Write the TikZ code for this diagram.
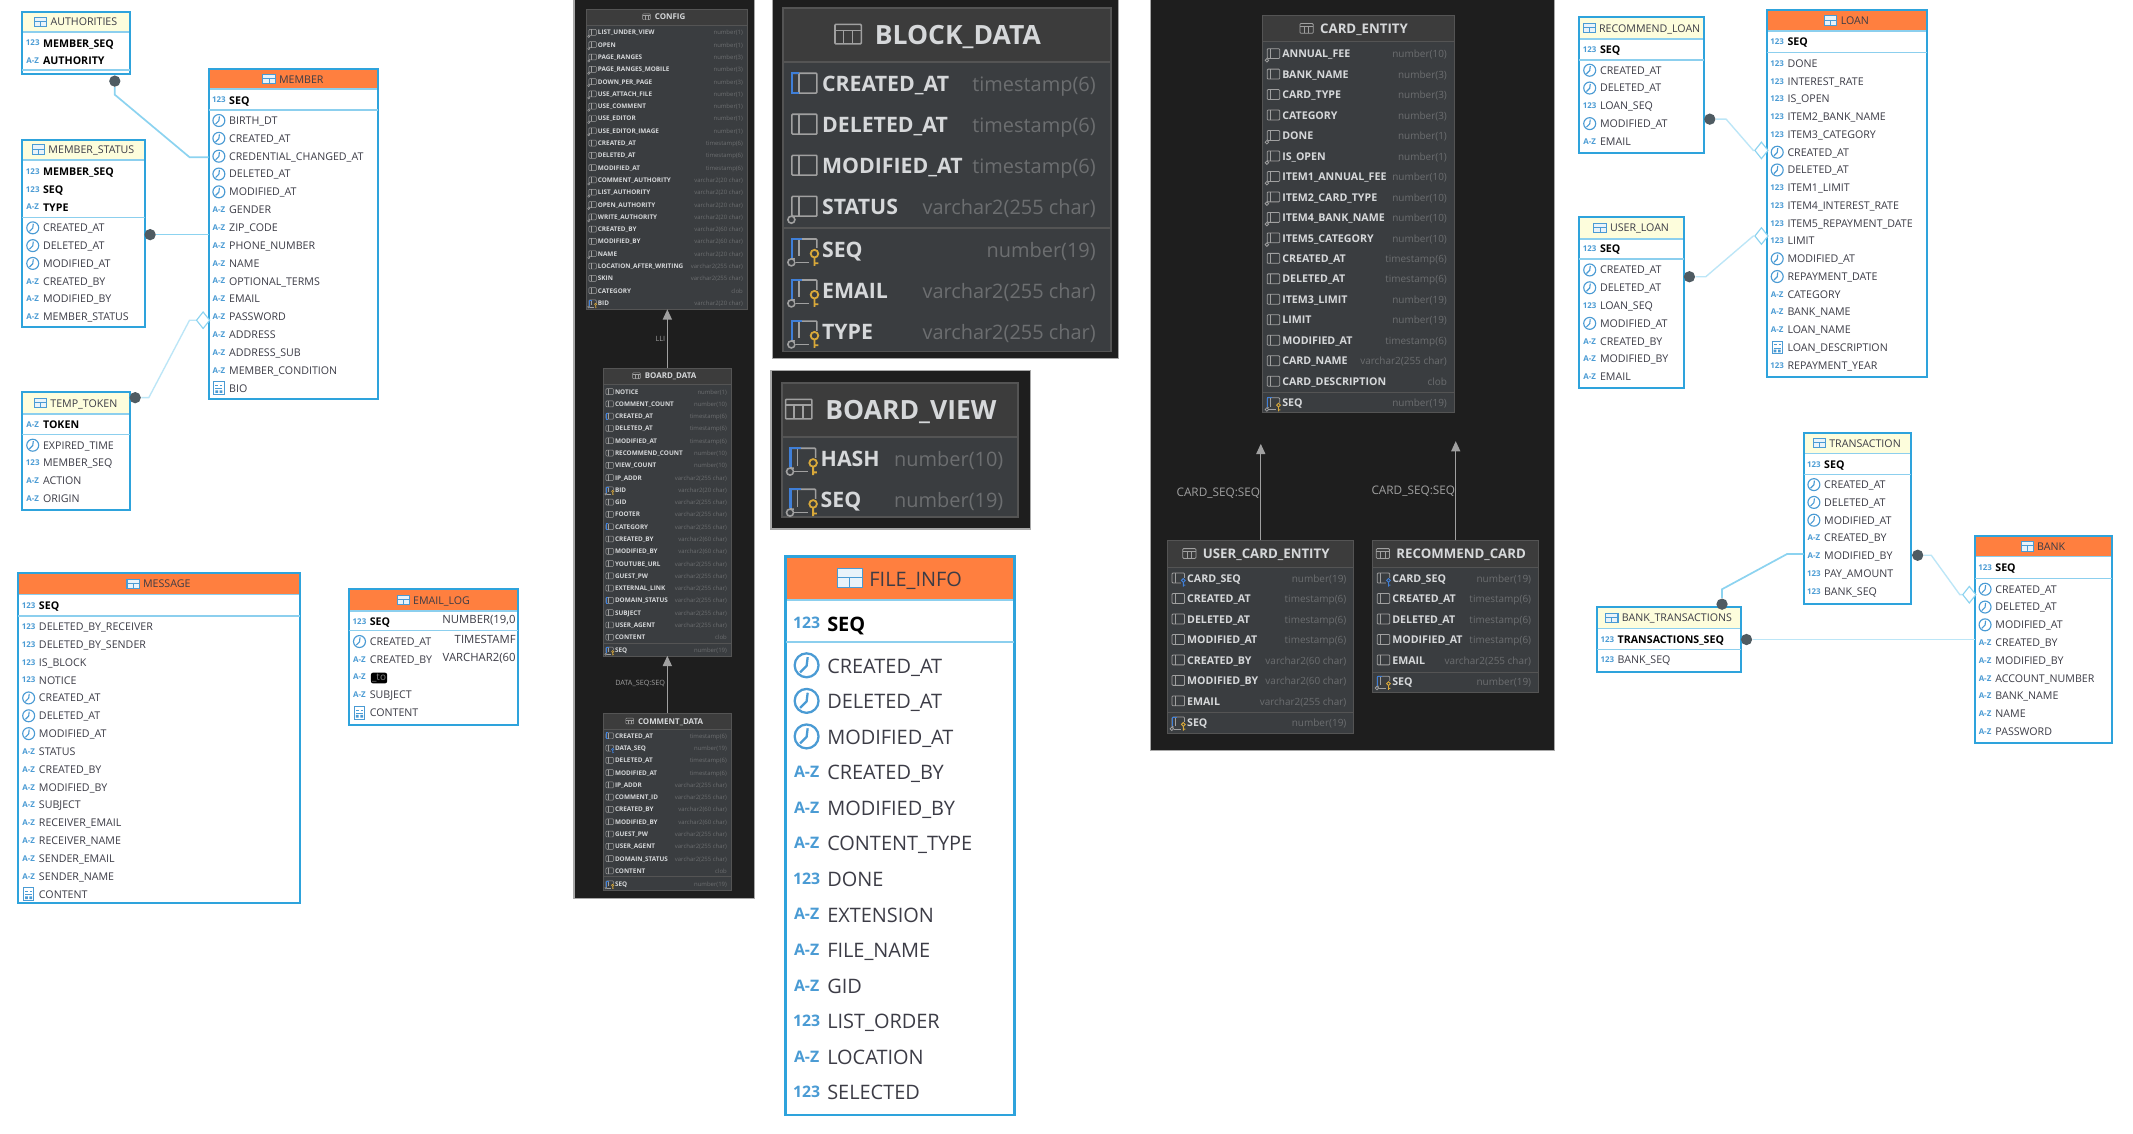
\documentclass[tikz,border=0pt]{standalone}
\usepackage{fontspec}
\setmainfont{Open Sans}
\usetikzlibrary{arrows.meta}
\catcode`\_=12
\definecolor{tblue}{HTML}{2EA3DC}
\definecolor{tsep}{HTML}{8CCFEE}
\definecolor{icblue}{HTML}{4A9BD4}
\definecolor{orangeh}{HTML}{FF7F3F}
\definecolor{creamh}{HTML}{FDFDDC}
\definecolor{ltext}{HTML}{3C3C46}
\definecolor{panelbg}{HTML}{1E1E1E}
\definecolor{panelln}{HTML}{A8A8A8}
\definecolor{dbody}{HTML}{3A3D40}
\definecolor{dhead}{HTML}{3C3C3C}
\definecolor{dline}{HTML}{545454}
\definecolor{dtext}{HTML}{D6D8DA}
\definecolor{dtype}{HTML}{6C6E70}
\definecolor{dicon}{HTML}{A0A0A0}
\definecolor{dblue}{HTML}{3F7FD8}
\definecolor{dgold}{HTML}{D9A93A}
\definecolor{rlhv}{HTML}{8CD3F0}
\definecolor{rllt}{HTML}{BCE6F7}
\definecolor{dotc}{HTML}{4F5B62}
\tikzset{
  tblbox/.style={rectangle,inner sep=0pt,outer sep=0pt},
  rowtext/.style={anchor=base west,inner sep=0pt,outer sep=0pt},
  typetext/.style={anchor=base east,inner sep=0pt,outer sep=0pt},
  ictext/.style={anchor=base,inner sep=0pt,outer sep=0pt,text=icblue},
  dot/.style={circle,fill=dotc,inner sep=0pt,minimum size=5pt},
  dia/.style={diamond,draw=rlhv,fill=white,line width=.5pt,inner sep=0pt,minimum width=6pt,minimum height=7.5pt},
  relheavy/.style={draw=rlhv,line width=.75pt},
  rellight/.style={draw=rllt,line width=.6pt},
  darkarr/.style={draw=dicon,line width=.5pt,-{Triangle[width=4pt,length=4.5pt]}},
  edgelab/.style={inner sep=0pt,outer sep=0pt,text=dicon},
}
\usetikzlibrary{shapes.geometric}
% ---------- light icons (x,y,s)
\newcommand\liconn[3]{\pgfmathsetmacro\icf{3.5*#3}\node[ictext,font=\fontsize{\icf}{\icf}\bfseries\selectfont] at (#1,{#2+2.1*#3}) {123};}
\newcommand\licona[3]{\pgfmathsetmacro\icf{3.5*#3}\node[ictext,font=\fontsize{\icf}{\icf}\bfseries\selectfont] at (#1,{#2+2.1*#3}) {A-Z};}
\newcommand\liconc[3]{\pgfmathsetmacro\lww{0.5*#3}\begin{scope}[shift={(#1,#2)},scale=#3]
  \draw[draw=icblue,line width=\lww pt] (0,0) circle (4.4);
  \draw[draw=icblue,line width=\lww pt] (.4,-3) -- (0,.2) -- (-2.4,2.6);\end{scope}}
\newcommand\licond[3]{\pgfmathsetmacro\lww{0.4*#3}\begin{scope}[shift={(#1,#2)},scale=#3]
  \draw[draw=icblue,line width=\lww pt] (-3.8,-4.6) rectangle (3.8,4.6);
  \draw[draw=icblue,line width=\lww pt] (-2.5,-2) -- (-.5,-2) (1,-2) -- (2.5,-2) (-2.5,.4) -- (2.5,.4);
  \fill[icblue] (-2.6,1.6) rectangle (-.6,3.6) (.6,1.6) rectangle (2.6,3.6);\end{scope}}
% ---------- light table: id,x0,y0,x1,y1,hb,headcolor,title,s
\newcommand\ltable[9]{%
  \pgfmathsetmacro\tblW{(#4-#2)*0.6}\pgfmathsetmacro\tblH{(#5-#3)*0.6}%
  \pgfmathsetmacro\tfs{0.6+4.1*#9}\pgfmathsetmacro\blw{0.5+0.4*#9}%
  \node[tblbox,fill=white,name=#1,minimum width=\tblW pt,minimum height=\tblH pt,anchor=north west] at (#2,#3) {};
  \fill[#7] (#2,#3) rectangle (#4,#6);
  \draw[draw=tsep,line width=.7pt] (#2,#6) -- (#4,#6);
  \draw[draw=tblue,line width=\blw pt] (#1.north west) rectangle (#1.south east);
  \node[inner sep=0pt,name=#1-title,text=ltext,font=\fontsize{\tfs}{\tfs}\selectfont,anchor=base] at ({(#2+#4)/2+5.75*#9},{(#3+#6)/2+2.9*#9}) {#8};
  \begin{scope}[shift={(#1-title.base west)},scale=#9]
    \draw[draw=icblue,line width=.45pt,fill=icblue!12] (-11.5,-6.4) rectangle (-2.5,.6);
    \draw[draw=icblue,line width=.4pt] (-11.5,-3.4) -- (-2.5,-3.4) (-7,-3.4) -- (-7,.6);
  \end{scope}}
% id-prefix,x0,ystart,step,s,list
\newcommand\lrows[6]{%
  \pgfmathsetmacro\rfs{0.6+4.1*#5}%
  \foreach \tp/\nm [count=\i from 0] in {#6}{%
    \pgfmathsetmacro\ry{#3+\i*#4}%
    \csname licon\tp\endcsname{#2+7.6*#5}{\ry}{#5}%
    \node[rowtext,text=ltext,name=#1-\i,font=\fontsize{\rfs}{\rfs}\selectfont] at ({#2+15.2*#5},{\ry+2.9*#5}) {\nm};
  }}
\newcommand\lpk[6]{%
  \pgfmathsetmacro\rfs{0.6+4.1*#5}%
  \foreach \tp/\nm [count=\i from 0] in {#6}{%
    \pgfmathsetmacro\ry{#3+\i*#4}%
    \csname licon\tp\endcsname{#2+7.6*#5}{\ry}{#5}%
    \node[rowtext,text=black,name=#1-\i,font=\fontsize{\rfs}{\rfs}\bfseries\selectfont] at ({#2+15.2*#5},{\ry+2.9*#5}) {\nm};
  }}
\newcommand\lsep[4]{\draw[draw=tsep,line width=#4] (#1,#3) -- (#2,#3);}
% ---------- dark icons
\newcommand\diconbase[3]{\pgfmathsetmacro\lww{0.35*#3}\begin{scope}[shift={(#1,#2)},scale=#3]
  \draw[draw=dicon,line width=\lww pt,rounded corners=.4] (3.2,-3.9) rectangle (12.4,3.4);
  \draw[draw=dicon,line width=\lww pt] (5.8,-3.9) -- (5.8,3.4);\end{scope}}
\newcommand\diconp[3]{\diconbase{#1}{#2}{#3}}
\newcommand\diconb[3]{\diconbase{#1}{#2}{#3}\pgfmathsetmacro\lww{0.5*#3}\begin{scope}[shift={(#1,#2)},scale=#3]
  \draw[draw=dblue,line width=\lww pt] (5.8,-3.9) -- (3.2,-3.9) -- (3.2,3.4) -- (5.8,3.4);\end{scope}}
\newcommand\diconq[3]{\diconbase{#1}{#2}{#3}\pgfmathsetmacro\lww{0.35*#3}\begin{scope}[shift={(#1,#2)},scale=#3]
  \draw[draw=dicon,fill=dbody,line width=\lww pt] (3,4.7) circle (1.3);\end{scope}}
\newcommand\dickey[4]{\pgfmathsetmacro\lww{0.4*#3}\begin{scope}[shift={(#1,#2)},scale=#3]
  \fill[dbody] (9.6,-.4) rectangle (13.4,6);
  \draw[draw=#4,line width=\lww pt] (11.5,1.5) circle (1.4) (11.5,2.9) -- (11.5,6) (11.5,5) -- (12.9,5);\end{scope}}
\newcommand\diconf[3]{\diconbase{#1}{#2}{#3}\dickey{#1}{#2}{#3}{dblue}}
\newcommand\diconk[3]{\diconq{#1}{#2}{#3}\pgfmathsetmacro\lww{0.5*#3}\begin{scope}[shift={(#1,#2)},scale=#3]
  \draw[draw=dblue,line width=\lww pt] (3.2,3) -- (3.2,-3.9) -- (7,-3.9);
  \fill[dbody] (4.5,2.5) rectangle (9.5,4.5);
  \draw[draw=dicon,line width=.35*\lww pt] (4.6,4.7) -- (9.5,4.7);\end{scope}\dickey{#1}{#2}{#3}{dgold}}
% ---------- dark table: id,x0,y0,x1,y1,hb,title,s
\newcommand\dtable[8]{%
  \pgfmathsetmacro\tblW{(#4-#2)*0.6}\pgfmathsetmacro\tblH{(#5-#3)*0.6}%
  \pgfmathsetmacro\tfs{5.85*#8}\pgfmathsetmacro\blw{0.4*#8}%
  \node[tblbox,fill=dbody,name=#1,minimum width=\tblW pt,minimum height=\tblH pt,anchor=north west] at (#2,#3) {};
  \fill[dhead] (#2,#3) rectangle (#4,#6);
  \draw[draw=dline,line width=\blw pt] (#2,#6) -- (#4,#6);
  \draw[draw=dline,line width=\blw pt] (#1.north west) rectangle (#1.south east);
  \node[inner sep=0pt,name=#1-title,text=dtext,font=\fontsize{\tfs}{\tfs}\bfseries\selectfont,anchor=base] at ({(#2+#4)/2+4*#8},{(#3+#6)/2+3.5*#8}) {#7};
  \pgfmathsetmacro\lww{0.35*#8}%
  \begin{scope}[shift={(#1-title.base west)},scale=#8]
    \draw[draw=dicon,line width=\lww pt,rounded corners=.4] (-14.5,-7.4) rectangle (-4.8,-.2);
    \draw[draw=dicon,line width=\lww pt] (-14.5,-5.2) -- (-4.8,-5.2) (-11.3,-5.2) -- (-11.3,-.2) (-8,-5.2) -- (-8,-.2);
  \end{scope}}
% prefix,x0,x1,ystart,step,s,list
\newcommand\drows[7]{%
  \pgfmathsetmacro\rfs{4.7*#6}\pgfmathsetmacro\yfs{4.4*#6}%
  \foreach \tp/\nm/\ty [count=\i from 0] in {#7}{%
    \pgfmathsetmacro\ry{#4+\i*#5}%
    \csname dicon\tp\endcsname{#2}{\ry}{#6}%
    \node[rowtext,text=dtext,name=#1-\i,font=\fontsize{\rfs}{\rfs}\bfseries\selectfont] at ({#2+14.3*#6},{\ry+2.8*#6}) {\nm};
    \node[typetext,text=dtype,name=#1-t\i,font=\fontsize{\yfs}{\yfs}\selectfont] at ({#3-5.5*#6},{\ry+2.8*#6}) {\ty};
  }}
\newcommand\dsep[4]{\draw[draw=dline,line width=#4] (#1,#3) -- (#2,#3);}
\begin{document}
\begin{tikzpicture}[x=0.6pt,y=-0.6pt]
\useasboundingbox[fill=white] (-1.5,-.7) rectangle (1568.5,833.3);
% ================ dark panels
\node[tblbox,name=panelA,fill=panelbg,draw=panelln,line width=.5pt,minimum width=79.8pt,minimum height=397.5pt,anchor=north west] at (421,-2) {};
\node[tblbox,name=panelB,fill=panelbg,draw=panelln,line width=.5pt,minimum width=153pt,minimum height=159pt,anchor=north west] at (567,-2) {};
\node[tblbox,name=panelC,fill=panelbg,draw=panelln,line width=.5pt,minimum width=114.6pt,minimum height=70pt,anchor=north west] at (566,272) {};
\node[tblbox,name=panelD,fill=panelbg,draw=panelln,line width=.5pt,minimum width=178.8pt,minimum height=332.2pt,anchor=north west] at (845,-2) {};
% ================ CONFIG group
\dtable{config}{430}{6}{548.6}{227}{17.7}{CONFIG}{.6}
\drows{configr}{430}{548.6}{23.3}{9.05}{.6}{q/LIST_UNDER_VIEW/number(1),q/OPEN/number(1),q/PAGE_RANGES/number(3),q/PAGE_RANGES_MOBILE/number(3),q/DOWN_PER_PAGE/number(3),q/USE_ATTACH_FILE/number(1),q/USE_COMMENT/number(1),q/USE_EDITOR/number(1),q/USE_EDITOR_IMAGE/number(1),p/CREATED_AT/timestamp(6),p/DELETED_AT/timestamp(6),p/MODIFIED_AT/timestamp(6),q/COMMENT_AUTHORITY/varchar2(20 char),q/LIST_AUTHORITY/varchar2(20 char),q/OPEN_AUTHORITY/varchar2(20 char),q/WRITE_AUTHORITY/varchar2(20 char),p/CREATED_BY/varchar2(60 char),p/MODIFIED_BY/varchar2(60 char),q/NAME/varchar2(20 char),p/LOCATION_AFTER_WRITING/varchar2(255 char),p/SKIN/varchar2(255 char),p/CATEGORY/clob,k/BID/varchar2(20 char)}
\dtable{board}{442.6}{270}{536.8}{482}{282}{BOARD_DATA}{.6}
\drows{boardr}{442.6}{536.8}{287.7}{9.04}{.6}{p/NOTICE/number(1),p/COMMENT_COUNT/number(10),b/CREATED_AT/timestamp(6),p/DELETED_AT/timestamp(6),p/MODIFIED_AT/timestamp(6),p/RECOMMEND_COUNT/number(10),p/VIEW_COUNT/number(10),p/IP_ADDR/varchar2(255 char),k/BID/varchar2(20 char),p/GID/varchar2(255 char),p/FOOTER/varchar2(255 char),b/CATEGORY/varchar2(255 char),p/CREATED_BY/varchar2(60 char),p/MODIFIED_BY/varchar2(60 char),p/YOUTUBE_URL/varchar2(255 char),p/GUEST_PW/varchar2(255 char),p/EXTERNAL_LINK/varchar2(255 char),b/DOMAIN_STATUS/varchar2(255 char),p/SUBJECT/varchar2(255 char),p/USER_AGENT/varchar2(255 char),p/CONTENT/clob}
\dsep{442.6}{536.8}{472.5}{.3pt}
\drows{boardk}{442.6}{536.8}{478}{9.04}{.6}{k/SEQ/number(19)}
\dtable{comment}{442.6}{524.4}{536.8}{654.7}{536}{COMMENT_DATA}{.6}
\drows{commentr}{442.6}{536.8}{541}{9.04}{.6}{b/CREATED_AT/timestamp(6),f/DATA_SEQ/number(19),p/DELETED_AT/timestamp(6),p/MODIFIED_AT/timestamp(6),p/IP_ADDR/varchar2(255 char),p/COMMENT_ID/varchar2(255 char),p/CREATED_BY/varchar2(60 char),p/MODIFIED_BY/varchar2(60 char),p/GUEST_PW/varchar2(255 char),p/USER_AGENT/varchar2(255 char),p/DOMAIN_STATUS/varchar2(255 char),p/CONTENT/clob}
\dsep{442.6}{536.8}{644.5}{.3pt}
\drows{commentk}{442.6}{536.8}{650}{9.04}{.6}{k/SEQ/number(19)}
\draw[darkarr] (board.north) -- (board.north |- config.south);
\draw[darkarr] (comment.north) -- (comment.north |- board.south);
\node[edgelab,name=lbA,anchor=east,font=\fontsize{3.2}{3.2}\selectfont] at (488,249) {LLI};
\node[edgelab,name=lbB,anchor=east,font=\fontsize{3.2}{3.2}\selectfont] at (488,502.5) {DATA_SEQ:SEQ};
% ================ BLOCK_DATA / BOARD_VIEW
\dtable{block}{575}{5}{816}{258}{45}{BLOCK_DATA}{2}
\drows{blockr}{575}{816}{61}{30.2}{2}{b/CREATED_AT/timestamp(6),p/DELETED_AT/timestamp(6),p/MODIFIED_AT/timestamp(6),q/STATUS/varchar2(255 char)}
\dsep{575}{816}{167}{.6pt}
\drows{blockk}{575}{816}{183}{30.2}{2}{k/SEQ/number(19),k/EMAIL/varchar2(255 char),k/TYPE/varchar2(255 char)}
\dtable{view}{574}{281}{748}{380}{321}{BOARD_VIEW}{2}
\drows{viewr}{574}{748}{337}{30.2}{2}{k/HASH/number(10),k/SEQ/number(19)}
% ================ CARD group
\dtable{card}{928}{11}{1069}{303}{30}{CARD_ENTITY}{1}
\drows{cardr}{928}{1069}{39}{15.07}{1}{q/ANNUAL_FEE/number(10),p/BANK_NAME/number(3),p/CARD_TYPE/number(3),p/CATEGORY/number(3),q/DONE/number(1),q/IS_OPEN/number(1),q/ITEM1_ANNUAL_FEE/number(10),q/ITEM2_CARD_TYPE/number(10),q/ITEM4_BANK_NAME/number(10),q/ITEM5_CATEGORY/number(10),p/CREATED_AT/timestamp(6),p/DELETED_AT/timestamp(6),p/ITEM3_LIMIT/number(19),p/LIMIT/number(19),p/MODIFIED_AT/timestamp(6),p/CARD_NAME/varchar2(255 char),p/CARD_DESCRIPTION/clob}
\dsep{928}{1069}{288}{.4pt}
\drows{cardk}{928}{1069}{296}{15.07}{1}{k/SEQ/number(19)}
\dtable{ucard}{858}{397}{995}{539}{417}{USER_CARD_ENTITY}{1}
\drows{ucardr}{858}{995}{425}{15.07}{1}{f/CARD_SEQ/number(19),p/CREATED_AT/timestamp(6),p/DELETED_AT/timestamp(6),p/MODIFIED_AT/timestamp(6),p/CREATED_BY/varchar2(60 char),p/MODIFIED_BY/varchar2(60 char),p/EMAIL/varchar2(255 char)}
\dsep{858}{995}{524}{.4pt}
\drows{ucardk}{858}{995}{531}{15.07}{1}{k/SEQ/number(19)}
\dtable{rcard}{1009}{397}{1131}{509}{417}{RECOMMEND_CARD}{1}
\drows{rcardr}{1009}{1131}{425}{15.07}{1}{f/CARD_SEQ/number(19),p/CREATED_AT/timestamp(6),p/DELETED_AT/timestamp(6),p/MODIFIED_AT/timestamp(6),p/EMAIL/varchar2(255 char)}
\dsep{1009}{1131}{494}{.4pt}
\drows{rcardk}{1009}{1131}{501}{15.07}{1}{k/SEQ/number(19)}
\coordinate (tipA) at (926.5,326);
\coordinate (tipB) at (1070,324);
\draw[darkarr] (ucard.north) -- (tipA);
\draw[darkarr] (rcard.north) -- (tipB);
\node[edgelab,name=lbC,anchor=east,font=\fontsize{5.2}{5.2}\selectfont] at (926,362) {CARD_SEQ:SEQ};
\node[edgelab,name=lbD,anchor=east,font=\fontsize{5.2}{5.2}\selectfont] at (1069.5,361) {CARD_SEQ:SEQ};
% ================ light tables left
\ltable{auth}{15}{8}{94}{54}{23}{creamh}{AUTHORITIES}{1}
\lpk{authk}{15}{31}{13.1}{1}{n/MEMBER_SEQ,a/AUTHORITY}
\lsep{15}{94}{51}{.7pt}
\ltable{member}{152}{50}{277}{293}{65}{orangeh}{MEMBER}{1}
\lpk{memberk}{152}{73}{13.1}{1}{n/SEQ}
\lsep{152}{277}{80.3}{.7pt}
\lrows{memberr}{152}{88}{13.13}{1}{c/BIRTH_DT,c/CREATED_AT,c/CREDENTIAL_CHANGED_AT,c/DELETED_AT,c/MODIFIED_AT,a/GENDER,a/ZIP_CODE,a/PHONE_NUMBER,a/NAME,a/OPTIONAL_TERMS,a/EMAIL,a/PASSWORD,a/ADDRESS,a/ADDRESS_SUB,a/MEMBER_CONDITION,d/BIO}
\ltable{mstatus}{15}{102}{105}{240}{117}{creamh}{MEMBER_STATUS}{1}
\lpk{mstatusk}{15}{125.5}{13.1}{1}{n/MEMBER_SEQ,n/SEQ,a/TYPE}
\lsep{15}{105}{159.5}{.7pt}
\lrows{mstatusr}{15}{167}{13.1}{1}{c/CREATED_AT,c/DELETED_AT,c/MODIFIED_AT,a/CREATED_BY,a/MODIFIED_BY,a/MEMBER_STATUS}
\ltable{token}{15}{288}{94}{375}{304}{creamh}{TEMP_TOKEN}{1}
\lpk{tokenk}{15}{311.5}{13.1}{1}{a/TOKEN}
\lsep{15}{94}{319}{.7pt}
\lrows{tokenr}{15}{327}{13.1}{1}{c/EXPIRED_TIME,n/MEMBER_SEQ,a/ACTION,a/ORIGIN}
\ltable{message}{12}{421}{219}{664}{437}{orangeh}{MESSAGE}{1}
\lpk{messagek}{12}{445}{13.1}{1}{n/SEQ}
\lsep{12}{219}{452.5}{.7pt}
\lrows{messager}{12}{460.5}{13.13}{1}{n/DELETED_BY_RECEIVER,n/DELETED_BY_SENDER,n/IS_BLOCK,n/NOTICE,c/CREATED_AT,c/DELETED_AT,c/MODIFIED_AT,a/STATUS,a/CREATED_BY,a/MODIFIED_BY,a/SUBJECT,a/RECEIVER_EMAIL,a/RECEIVER_NAME,a/SENDER_EMAIL,a/SENDER_NAME,d/CONTENT}
\ltable{email}{255.5}{433}{380}{533}{449}{orangeh}{EMAIL_LOG}{1}
\lpk{emailk}{255.5}{456.5}{13.1}{1}{n/SEQ}
\lsep{255.5}{380}{463.5}{.7pt}
\lrows{emailr}{255.5}{471.5}{13.1}{1}{c/CREATED_AT,a/CREATED_BY,a/,a/SUBJECT,d/CONTENT}
\node[rowtext,name=emailblk,fill=black,text=gray,rounded corners=1pt,inner xsep=.5pt,inner ysep=.6pt,font=\fontsize{4.4}{4.4}\selectfont] at (271.5,500.2) {_to};
\node[typetext,text=ltext,name=emt1,font=\fontsize{5}{5}\selectfont] at (378,458) {NUMBER(19,0};
\node[typetext,text=ltext,name=emt2,font=\fontsize{5}{5}\selectfont] at (378,473) {TIMESTAMF};
\node[typetext,text=ltext,name=emt3,font=\fontsize{5}{5}\selectfont] at (378,486) {VARCHAR2(60};
% ================ FILE_INFO
\ltable{file}{577}{409}{745}{820}{441}{orangeh}{FILE_INFO}{2}
\lpk{filek}{577}{458}{26}{2}{n/SEQ}
\lsep{577}{745}{472}{.8pt}
\lrows{filer}{577}{489}{26.17}{2}{c/CREATED_AT,c/DELETED_AT,c/MODIFIED_AT,a/CREATED_BY,a/MODIFIED_BY,a/CONTENT_TYPE,n/DONE,a/EXTENSION,a/FILE_NAME,a/GID,n/LIST_ORDER,a/LOCATION,n/SELECTED}
% ================ right light tables
\ltable{rloan}{1161}{12}{1253}{112}{28}{creamh}{RECOMMEND_LOAN}{1}
\lpk{rloank}{1161}{36}{13.1}{1}{n/SEQ}
\lsep{1161}{1253}{43.5}{.7pt}
\lrows{rloanr}{1161}{51}{13.1}{1}{c/CREATED_AT,c/DELETED_AT,n/LOAN_SEQ,c/MODIFIED_AT,a/EMAIL}
\ltable{uloan}{1161}{159}{1238}{285}{175}{creamh}{USER_LOAN}{1}
\lpk{uloank}{1161}{182.5}{13.1}{1}{n/SEQ}
\lsep{1161}{1238}{190}{.7pt}
\lrows{uloanr}{1161}{198}{13.1}{1}{c/CREATED_AT,c/DELETED_AT,n/LOAN_SEQ,c/MODIFIED_AT,a/CREATED_BY,a/MODIFIED_BY,a/EMAIL}
\ltable{loan}{1299}{7}{1417}{277}{22}{orangeh}{LOAN}{1}
\lpk{loank}{1299}{30}{13.1}{1}{n/SEQ}
\lsep{1299}{1417}{38}{.7pt}
\lrows{loanr}{1299}{46}{13.07}{1}{n/DONE,n/INTEREST_RATE,n/IS_OPEN,n/ITEM2_BANK_NAME,n/ITEM3_CATEGORY,c/CREATED_AT,c/DELETED_AT,n/ITEM1_LIMIT,n/ITEM4_INTEREST_RATE,n/ITEM5_REPAYMENT_DATE,n/LIMIT,c/MODIFIED_AT,c/REPAYMENT_DATE,a/CATEGORY,a/BANK_NAME,a/LOAN_NAME,d/LOAN_DESCRIPTION,n/REPAYMENT_YEAR}
\ltable{trans}{1326}{318}{1405}{444}{333}{creamh}{TRANSACTION}{1}
\lpk{transk}{1326}{341}{13.1}{1}{n/SEQ}
\lsep{1326}{1405}{348.5}{.7pt}
\lrows{transr}{1326}{356}{13.1}{1}{c/CREATED_AT,c/DELETED_AT,c/MODIFIED_AT,a/CREATED_BY,a/MODIFIED_BY,n/PAY_AMOUNT,n/BANK_SEQ}
\ltable{btrans}{1174}{446}{1280}{494}{462}{creamh}{BANK_TRANSACTIONS}{1}
\lpk{btransk}{1174}{470}{13.1}{1}{n/TRANSACTIONS_SEQ}
\lsep{1174}{1280}{477.5}{.7pt}
\lrows{btransr}{1174}{485}{13.1}{1}{n/BANK_SEQ}
\ltable{bank}{1452}{394}{1553}{546}{409}{orangeh}{BANK}{1}
\lpk{bankk}{1452}{417}{13.1}{1}{n/SEQ}
\lsep{1452}{1553}{425}{.7pt}
\lrows{bankr}{1452}{433}{13.1}{1}{c/CREATED_AT,c/DELETED_AT,c/MODIFIED_AT,a/CREATED_BY,a/MODIFIED_BY,a/ACCOUNT_NUMBER,a/BANK_NAME,a/NAME,a/PASSWORD}
% ================ relationships
\node[dot,name=d1] at (83,59) {};
\draw[relheavy] (d1) -- (83,69) -- (138,115) -- (member.west |- 0,115);
\node[dot,name=d2] at (109,172) {};
\draw[relheavy] (d2) -- (member.west |- d2);
\node[dot,name=d3] at (98,292) {};
\node[dia,name=m3] at (148,235) {};
\draw[rellight] (d3) -- (108,292) -- (138,235) -- (m3);
\node[dot,name=d4] at (1257,87) {};
\node[dia,name=m4] at (1295,110) {};
\draw[rellight] (d4) -- (1269,87) -- (1289,110) -- (m4);
\node[dot,name=d5] at (1242,203) {};
\node[dia,name=m5] at (1295,173) {};
\draw[rellight] (d5) -- (1254,203) -- (1289,173) -- (m5);
\node[dot,name=d6] at (1410,408) {};
\node[dia,name=m6] at (1448,437) {};
\draw[rellight] (d6) -- (1420,408) -- (1441,437) -- (m6);
\node[dot,name=d7] at (1266,444) {};
\draw[relheavy] (d7) -- (1266,433) -- (1314,407) -- (trans.west |- 0,407);
\node[dot,name=d8] at (1284,470) {};
\draw[rellight] (d8) -- (bank.west |- d8);
\end{tikzpicture}
\end{document}
